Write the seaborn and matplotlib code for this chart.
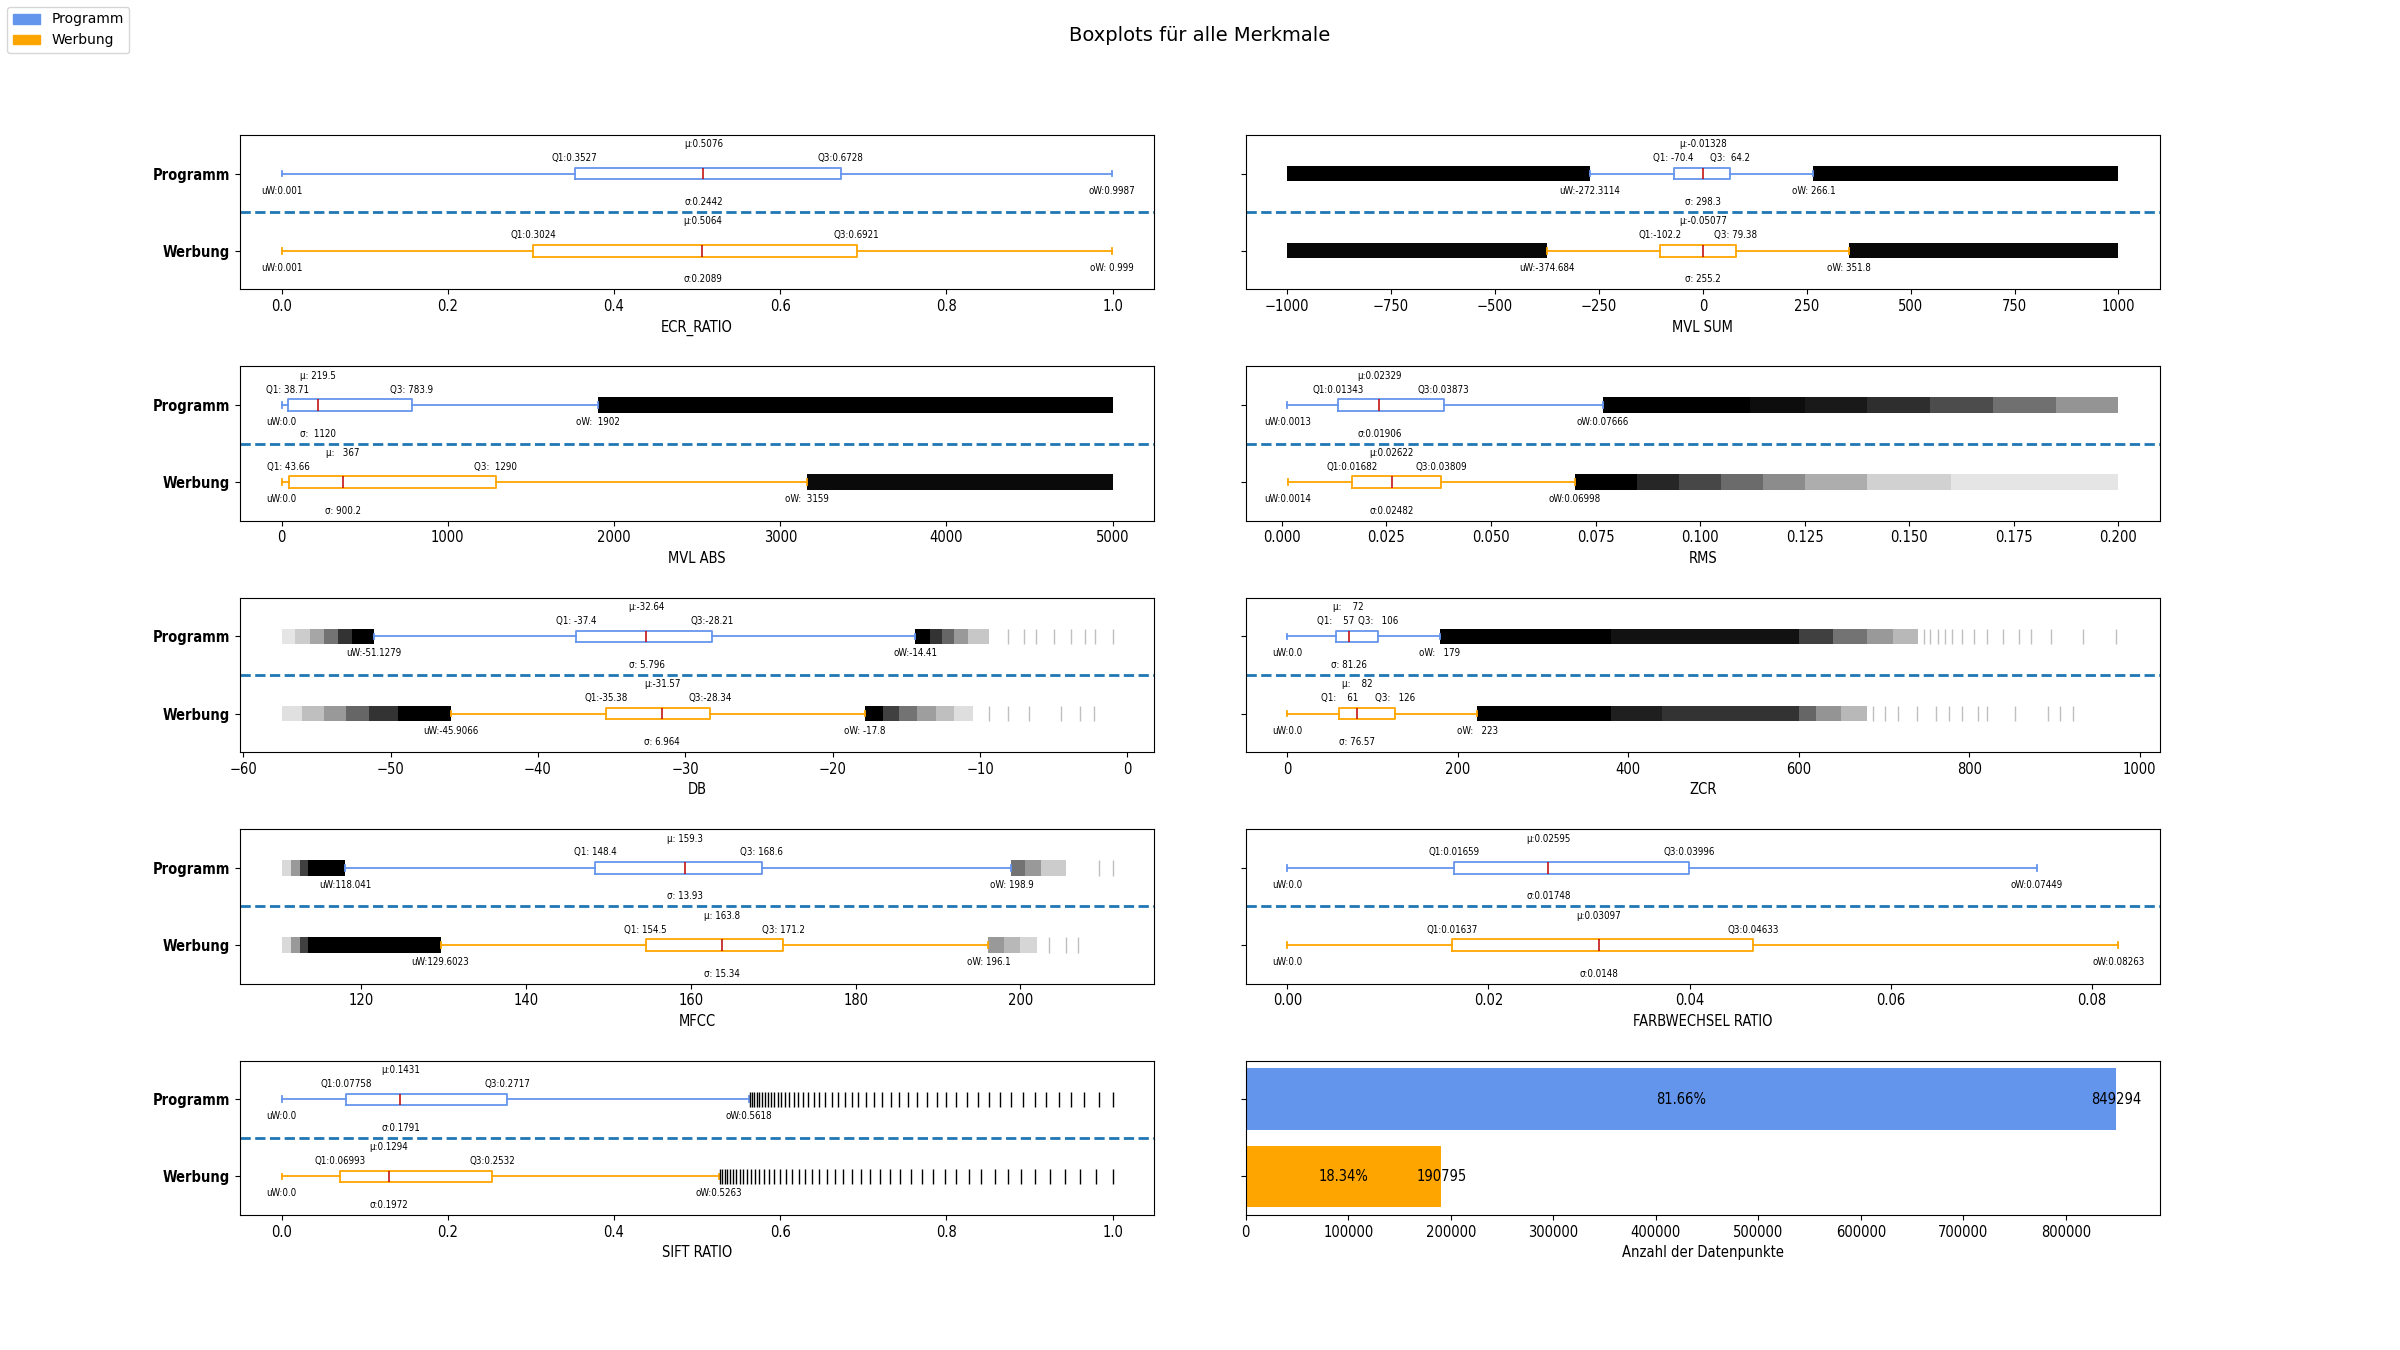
import matplotlib
matplotlib.use('Agg')
import matplotlib.pyplot as plt
from matplotlib import font_manager
from matplotlib.patches import Patch
import numpy as np
import pandas as pd
import seaborn as sns

# schmale Schrift fuer die Achsen, falls vorhanden
names = {f.name for f in font_manager.fontManager.ttflist}
narrow = 'Liberation Sans Narrow' if 'Liberation Sans Narrow' in names else 'DejaVu Sans'
plt.rcParams['font.family'] = [narrow, 'DejaVu Sans']
plt.rcParams['font.stretch'] = 'condensed'

features = ['ECR_RATIO', 'MVL SUM', 'MVL ABS', 'RMS', 'DB', 'ZCR', 'MFCC',
            'FARBWECHSEL RATIO', 'SIFT RATIO']
groups = ['Programm', 'Werbung']
colors = ['cornflowerblue', 'orange']

# Kennwerte Programm
prog_uw = [0.001, -272.3114, 0.0, 0.0013, -51.1279, 0.0, 118.041, 0.0, 0.0]
prog_q1 = [0.3527, -70.4, 38.71, 0.01343, -37.4, 57, 148.4, 0.01659, 0.07758]
prog_mu = [0.5076, -0.01328, 219.5, 0.02329, -32.64, 72, 159.3, 0.02595, 0.1431]
prog_q3 = [0.6728, 64.2, 783.9, 0.03873, -28.21, 106, 168.6, 0.03996, 0.2717]
prog_ow = [0.9987, 266.1, 1902, 0.07666, -14.41, 179, 198.9, 0.07449, 0.5618]
prog_sd = [0.2442, 298.3, 1120, 0.01906, 5.796, 81.26, 13.93, 0.01748, 0.1791]

# Kennwerte Werbung
werb_uw = [0.001, -374.684, 0.0, 0.0014, -45.9066, 0.0, 129.6023, 0.0, 0.0]
werb_q1 = [0.3024, -102.2, 43.66, 0.01682, -35.38, 61, 154.5, 0.01637, 0.06993]
werb_mu = [0.5064, -0.05077, 367, 0.02622, -31.57, 82, 163.8, 0.03097, 0.1294]
werb_q3 = [0.6921, 79.38, 1290, 0.03809, -28.34, 126, 171.2, 0.04633, 0.2532]
werb_ow = [0.999, 351.8, 3159, 0.06998, -17.8, 223, 196.1, 0.08263, 0.5263]
werb_sd = [0.2089, 255.2, 900.2, 0.02482, 6.964, 76.57, 15.34, 0.0148, 0.1972]

# Wertebereich der Daten (min, max)
data_min = [0, -1000, 0, 0.0013, -57.4, 0, 110.3, 0, 0]
data_max = [1, 1000, 5000, 0.2, -1.0, 975, 211.2, 0.08263, 1]

# Ausreisser-Dichte: (von, bis, Deckkraft)
prog_bands = [
    [],
    [(-1000, -272.3, 1.0), (266.1, 1000, 1.0)],
    [(1902, 5000, 1.0)],
    [(0.07666, 0.112, 1.0), (0.112, 0.125, 0.95), (0.125, 0.14, 0.9),
     (0.14, 0.155, 0.82), (0.155, 0.17, 0.7), (0.17, 0.185, 0.56), (0.185, 0.2, 0.42)],
    [(-57.4, -56.5, 0.1), (-56.5, -55.5, 0.2), (-55.5, -54.5, 0.35), (-54.5, -53.6, 0.55),
     (-53.6, -52.6, 0.8), (-52.6, -51.13, 1.0),
     (-14.41, -13.4, 1.0), (-13.4, -12.6, 0.8), (-12.6, -11.8, 0.6), (-11.8, -10.8, 0.4),
     (-10.8, -9.4, 0.22)],
    [(179, 380, 1.0), (380, 600, 0.93), (600, 640, 0.75), (640, 680, 0.55),
     (680, 710, 0.4), (710, 740, 0.28)],
    [(110.4, 111.5, 0.15), (111.5, 112.5, 0.4), (112.5, 113.5, 0.75), (113.5, 118.04, 1.0),
     (198.9, 200.5, 0.55), (200.5, 202.5, 0.4), (202.5, 205.5, 0.2)],
    [],
    [],
]
werb_bands = [
    [],
    [(-1000, -374.7, 0.97), (351.8, 1000, 0.97)],
    [(3159, 5000, 0.96)],
    [(0.06998, 0.085, 1.0), (0.085, 0.095, 0.85), (0.095, 0.105, 0.72), (0.105, 0.115, 0.58),
     (0.115, 0.125, 0.45), (0.125, 0.14, 0.32), (0.14, 0.16, 0.18), (0.16, 0.2, 0.1)],
    [(-57.4, -56, 0.12), (-56, -54.5, 0.25), (-54.5, -53, 0.4), (-53, -51.5, 0.6),
     (-51.5, -49.5, 0.8), (-49.5, -45.91, 1.0),
     (-17.8, -16.6, 1.0), (-16.6, -15.5, 0.75), (-15.5, -14.3, 0.55), (-14.3, -13, 0.38),
     (-13, -11.8, 0.25), (-11.8, -10.5, 0.13)],
    [(223, 380, 1.0), (380, 440, 0.88), (440, 600, 0.8), (600, 620, 0.6),
     (620, 650, 0.42), (650, 680, 0.28)],
    [(110.4, 111.5, 0.15), (111.5, 112.5, 0.4), (112.5, 113.5, 0.75), (113.5, 129.6, 1.0),
     (196.1, 198, 0.4), (198, 200, 0.28), (200, 202, 0.16)],
    [],
    [],
]

# einzelne, gut sichtbare Ausreisser
prog_ticks = [
    [], [], [], [],
    [-8.1, -7.0, -6.2, -5.0, -3.8, -2.9, -2.2, -1.0],
    [747, 754, 763, 772, 780, 791, 806, 821, 840, 858, 873, 896, 933, 972],
    [209.5, 211.2],
    [],
    [],
]
werb_ticks = [
    [], [], [], [],
    [-9.4, -8.1, -6.7, -4.5, -3.2, -2.3],
    [687, 701, 716, 739, 761, 776, 791, 810, 821, 854, 892, 907, 922],
    [203.5, 205.5, 207],
    [],
    [],
]
# SIFT RATIO: diskrete Werte oberhalb des Whiskers
sift_prog = [0.563, 0.566, 0.569, 0.572, 0.575, 0.578, 0.582, 0.585, 0.589, 0.593,
             0.597, 0.601, 0.606, 0.611, 0.616, 0.621, 0.627, 0.633, 0.64, 0.647,
             0.654, 0.662, 0.67, 0.678, 0.686, 0.694, 0.703, 0.713, 0.723, 0.733,
             0.743, 0.754, 0.765, 0.776, 0.788, 0.8, 0.812, 0.825, 0.838, 0.851,
             0.864, 0.878, 0.892, 0.906, 0.92, 0.935, 0.95, 0.966, 0.983, 1.0]
sift_werb = [0.527, 0.53, 0.533, 0.536, 0.539, 0.543, 0.547, 0.551, 0.555, 0.56,
             0.565, 0.57, 0.575, 0.581, 0.587, 0.593, 0.6, 0.607, 0.614, 0.622,
             0.63, 0.638, 0.647, 0.656, 0.666, 0.676, 0.686, 0.697, 0.708, 0.72,
             0.732, 0.744, 0.757, 0.77, 0.784, 0.798, 0.812, 0.827, 0.842, 0.858,
             0.874, 0.89, 0.907, 0.924, 0.942, 0.961, 0.98, 1.0]

counts = [849294, 190795]

fig, axes = plt.subplots(5, 2, figsize=(24, 13.5), dpi=100)
plt.subplots_adjust(left=0.1, right=0.9, top=0.9, bottom=0.1, wspace=0.1, hspace=0.5)
fig.suptitle('Boxplots für alle Merkmale', fontsize=14, family='DejaVu Sans',
             stretch='normal', y=0.981)


def g(v):
    return '{:6.4g}'.format(v)


def draw_group(ax, pos, color, uw, q1, mu, q3, ow, sd, bands, ticks):
    stats = [dict(med=mu, q1=q1, q3=q3, whislo=uw, whishi=ow, fliers=[])]
    ax.bxp(stats, positions=[pos], widths=0.15, orientation='horizontal',
           manage_ticks=False, showfliers=False,
           boxprops=dict(color=color, lw=1.3), whiskerprops=dict(color=color, lw=1.3),
           capprops=dict(color=color, lw=1.3), medianprops=dict(color='#c00000', lw=1.1))
    for x0, x1, a in bands:
        ax.barh(pos, x1 - x0, left=x0, height=0.2, color='black', alpha=a, linewidth=0)
    if ticks:
        ax.vlines(ticks, pos - 0.1, pos + 0.1, colors='black', alpha=0.25, lw=1)
    fs = 7
    ax.text(q1, pos + 0.2, 'Q1:' + g(q1), ha='center', va='center', fontsize=fs)
    ax.text(q3, pos + 0.2, 'Q3:' + g(q3), ha='center', va='center', fontsize=fs)
    ax.text(mu, pos + 0.38, 'µ:' + g(mu), ha='center', va='center', fontsize=fs)
    ax.text(uw, pos - 0.22, 'uW:' + str(round(uw, 4)), ha='center', va='center', fontsize=fs)
    ax.text(ow, pos - 0.22, 'oW:' + g(ow), ha='center', va='center', fontsize=fs)
    ax.text(mu, pos - 0.37, 'σ:' + g(sd), ha='center', va='center', fontsize=fs)


flat = axes.flatten()
for i, name in enumerate(features):
    ax = flat[i]
    draw_group(ax, 1, colors[0], prog_uw[i], prog_q1[i], prog_mu[i], prog_q3[i],
               prog_ow[i], prog_sd[i], prog_bands[i], prog_ticks[i])
    draw_group(ax, 0, colors[1], werb_uw[i], werb_q1[i], werb_mu[i], werb_q3[i],
               werb_ow[i], werb_sd[i], werb_bands[i], werb_ticks[i])
    if name == 'SIFT RATIO':
        ax.vlines(sift_prog, 0.9, 1.1, colors='black', lw=1)
        ax.vlines(sift_werb, -0.1, 0.1, colors='black', lw=1)
    ax.axhline(0.5, color='tab:blue', ls='--', lw=2)
    span = data_max[i] - data_min[i]
    ax.set_xlim(data_min[i] - 0.05 * span, data_max[i] + 0.05 * span)
    ax.set_ylim(-0.5, 1.5)
    ax.set_yticks([1, 0])
    if i % 2 == 0:
        ax.set_yticklabels(groups, fontweight='bold', fontsize=10.5)
    else:
        ax.set_yticklabels(['', ''])
    ax.set_xlabel(name, fontsize=10.5)
    ax.tick_params(axis='x', labelsize=10.5)

# Anzahl der Datenpunkte
ax = flat[9]
df = pd.DataFrame({'Gruppe': groups, 'Anzahl': counts})
sns.barplot(data=df, x='Anzahl', y='Gruppe', hue='Gruppe', palette=colors,
            saturation=1, legend=False, orient='h', width=0.8, ax=ax)
total = sum(counts)
for k, c in enumerate(counts):
    ax.text(c / 2, k, '{:.2f}%'.format(c / total * 100), ha='center', va='center', fontsize=10.5)
    ax.text(c, k, str(c), ha='center', va='center', fontsize=10.5)
ax.set_yticks([0, 1])
ax.set_yticklabels(['', ''])
ax.set_ylabel('')
ax.set_xlabel('Anzahl der Datenpunkte', fontsize=10.5)
ax.tick_params(axis='x', labelsize=10.5)

handles = [Patch(color=colors[0], label='Programm'), Patch(color=colors[1], label='Werbung')]
fig.legend(handles=handles, loc='upper left',
           prop={'family': 'DejaVu Sans', 'size': 10, 'stretch': 'normal'})

fig.savefig('out.png', dpi=100)
